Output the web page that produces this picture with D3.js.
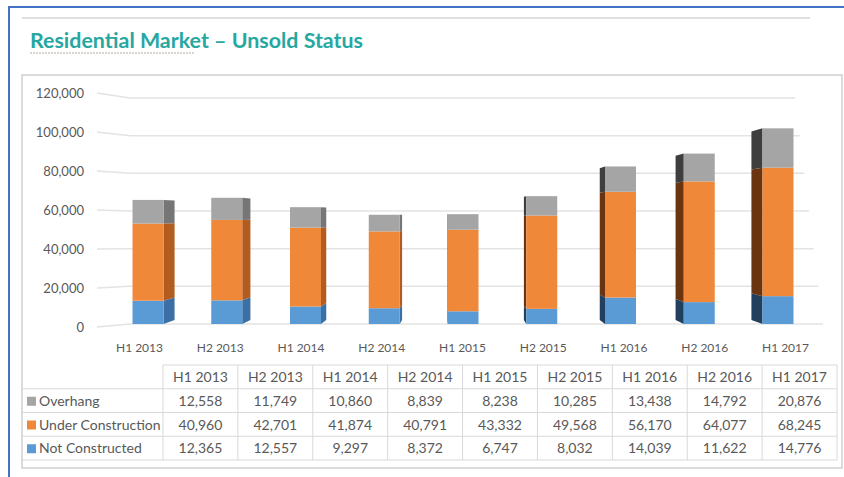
<!DOCTYPE html>
<html>
<head>
<meta charset="utf-8">
<script src="https://cdn.jsdelivr.net/npm/d3@7"></script>
<style>
  body { margin: 0; background: #fff; }
  svg text { font-family: Lato, "Open Sans", sans-serif; }
</style>
</head>
<body>
<script>
var periods = ["H1 2013", "H2 2013", "H1 2014", "H2 2014", "H1 2015", "H2 2015", "H1 2016", "H2 2016", "H1 2017"]
var overhang = [12558, 11749, 10860, 8839, 8238, 10285, 13438, 14792, 20876]
var underConstruction = [40960, 42701, 41874, 40791, 43332, 49568, 56170, 64077, 68245]
var notConstructed = [12365, 12557, 9297, 8372, 6747, 8032, 14039, 11622, 14776]
var yTicks = [0, 20000, 40000, 60000, 80000, 100000, 120000]

var seriesNames = ["Overhang", "Under Construction", "Not Constructed"]
var seriesValues = [overhang, underConstruction, notConstructed]
var frontColor = { "Overhang": "#a5a5a5", "Under Construction": "#f0883a", "Not Constructed": "#5b9bd5" }
var rightSide = { "Overhang": "#767676", "Under Construction": "#b35c20", "Not Constructed": "#3c70a5" }
var leftSide = { "Overhang": "#3e3e3e", "Under Construction": "#6b3410", "Not Constructed": "#233f5e" }

var width = 844, height = 477

var svg = d3.select("body").append("svg")
    .attr("width", width)
    .attr("height", height)

// frame
svg.append("line").attr("x1", 9).attr("x2", 844).attr("y1", 7).attr("y2", 7)
    .attr("stroke", "#4472c4").attr("stroke-width", 2)
svg.append("line").attr("x1", 9).attr("x2", 9).attr("y1", 6).attr("y2", 477)
    .attr("stroke", "#4472c4").attr("stroke-width", 2)
svg.append("line").attr("x1", 22).attr("x2", 810).attr("y1", 18).attr("y2", 18)
    .attr("stroke", "#d6d6d6").attr("stroke-width", 1.5)

svg.append("text")
    .attr("x", 30).attr("y", 48)
    .attr("textLength", 333).attr("lengthAdjust", "spacingAndGlyphs")
    .attr("font-size", 21).attr("font-weight", "bold")
    .attr("fill", "#27a7a2")
    .text("Residential Market \u2013 Unsold Status")
svg.append("line").attr("x1", 30).attr("x2", 195).attr("y1", 53).attr("y2", 53)
    .attr("stroke", "#b9a9a0").attr("stroke-width", 1).attr("stroke-dasharray", "2,1")

svg.append("rect").attr("x", 22).attr("y", 75).attr("width", 820).attr("height", 393)
    .attr("fill", "none").attr("stroke", "#cfcfcf").attr("stroke-width", 1.5)

// scales
var yScale = d3.scaleLinear().domain([0, 120000]).range([324, 98])
var yLabel = d3.scaleLinear().domain([0, 120000]).range([327, 93])
var gridEnd = d3.scaleLinear().domain([0, 120000]).range([823, 795])
var xBar = d3.scalePoint().domain(periods).range([148, 778])
var xText = d3.scalePoint().domain(periods).range([139.5, 785.5])
var barW = 31
var vp = { x: 463, y: 215 }, k = 0.037

// gridlines with a slanted start, like the 3D back wall
svg.append("g").selectAll("path")
    .data(yTicks)
    .enter()
    .append("path")
    .attr("d", function (d) {
        return "M97," + yLabel(d) + "L130," + yScale(d) + "L" + gridEnd(d) + "," + yScale(d)
    })
    .attr("fill", "none")
    .attr("stroke", "#e3e3e3")
    .attr("stroke-width", 1.5)

svg.append("g").selectAll("text")
    .data(yTicks)
    .enter()
    .append("text")
    .attr("x", 84)
    .attr("y", function (d) { return yLabel(d) + 4.5 })
    .attr("text-anchor", "end")
    .attr("font-size", 13)
    .attr("fill", "#595959")
    .text(d3.format(","))

// stacked 3D-ish bars
var rows = periods.map(function (p, i) {
    return { period: p, "Not Constructed": notConstructed[i], "Under Construction": underConstruction[i], "Overhang": overhang[i] }
})
var stack = d3.stack().keys(["Not Constructed", "Under Construction", "Overhang"])(rows)

function back(x, y) {
    return [x + (vp.x - x) * k, y + (vp.y - y) * k]
}

var layers = svg.append("g").selectAll("g")
    .data(stack)
    .enter()
    .append("g")

layers.selectAll("polygon")
    .data(function (s) { return s.map(function (d) { return { key: s.key, d: d } }) })
    .enter()
    .append("polygon")
    .attr("points", function (o) {
        var cx = xBar(o.d.data.period)
        var ex = cx < vp.x ? cx + barW / 2 : cx - barW / 2
        var yt = yScale(o.d[1]), yb = yScale(o.d[0])
        var a = back(ex, yt), b = back(ex, yb)
        return [[ex, yt], a, b, [ex, yb]].map(function (p) { return p.join(",") }).join(" ")
    })
    .attr("fill", function (o) {
        return xBar(o.d.data.period) < vp.x ? rightSide[o.key] : leftSide[o.key]
    })

layers.selectAll("rect")
    .data(function (s) { return s.map(function (d) { return { key: s.key, d: d } }) })
    .enter()
    .append("rect")
    .attr("x", function (o) { return xBar(o.d.data.period) - barW / 2 })
    .attr("y", function (o) { return yScale(o.d[1]) })
    .attr("width", barW)
    .attr("height", function (o) { return yScale(o.d[0]) - yScale(o.d[1]) })
    .attr("fill", function (o) { return frontColor[o.key] })

svg.append("g").selectAll("text")
    .data(periods)
    .enter()
    .append("text")
    .attr("x", function (d) { return xText(d) })
    .attr("y", 352)
    .attr("text-anchor", "middle")
    .attr("font-size", 12)
    .attr("fill", "#595959")
    .text(function (d) { return d })

// data table
var colX = d3.scaleBand().domain(periods).range([163, 837])
var rowY = d3.scaleBand().domain(["head"].concat(seriesNames)).range([365, 460])
var table = svg.append("g")

table.selectAll("line.h")
    .data(seriesNames.concat(["end"]))
    .enter()
    .append("line")
    .attr("x1", 22).attr("x2", 837)
    .attr("y1", function (d) { return d === "end" ? 460 : rowY(d) })
    .attr("y2", function (d) { return d === "end" ? 460 : rowY(d) })
    .attr("stroke", "#d9d9d9")
table.append("line").attr("x1", 163).attr("x2", 837).attr("y1", 365).attr("y2", 365).attr("stroke", "#d9d9d9")
table.selectAll("line.v")
    .data(periods.concat(["end"]))
    .enter()
    .append("line")
    .attr("x1", function (d) { return d === "end" ? 837 : colX(d) })
    .attr("x2", function (d) { return d === "end" ? 837 : colX(d) })
    .attr("y1", 365).attr("y2", 460)
    .attr("stroke", "#d9d9d9")

table.selectAll("text.head")
    .data(periods)
    .enter()
    .append("text")
    .attr("x", function (d) { return colX(d) + colX.bandwidth() / 2 })
    .attr("y", rowY("head") + 17)
    .attr("text-anchor", "middle")
    .attr("font-size", 14)
    .attr("fill", "#595959")
    .text(function (d) { return d })

seriesNames.forEach(function (name, si) {
    table.append("rect")
        .attr("x", 27).attr("y", rowY(name) + 8)
        .attr("width", 9).attr("height", 9)
        .attr("fill", frontColor[name])
    table.append("text")
        .attr("x", 39).attr("y", rowY(name) + 17)
        .attr("font-size", 14)
        .attr("fill", "#595959")
        .text(name)
    table.selectAll("text.v" + si)
        .data(seriesValues[si])
        .enter()
        .append("text")
        .attr("x", function (d, i) { return colX(periods[i]) + colX.bandwidth() / 2 })
        .attr("y", rowY(name) + 17)
        .attr("text-anchor", "middle")
        .attr("font-size", 14)
        .attr("fill", "#595959")
        .text(d3.format(","))
})
</script>
</body>
</html>
